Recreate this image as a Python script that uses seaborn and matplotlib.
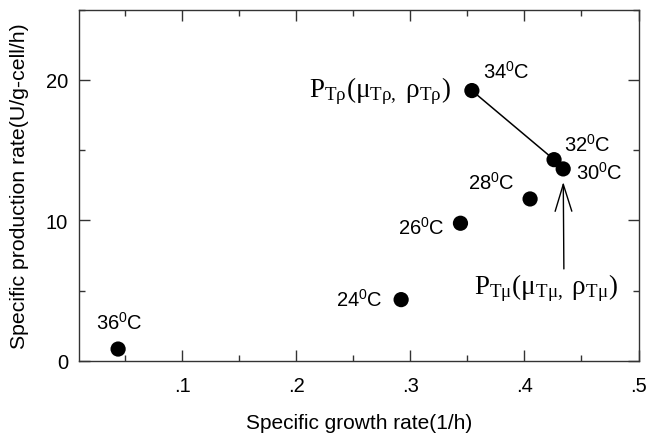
import matplotlib
matplotlib.use("Agg")
import matplotlib.pyplot as plt
import seaborn as sns
import pandas as pd
from matplotlib.ticker import FixedLocator, FuncFormatter

# ---- data ----
temps = ["36", "24", "26", "28", "30", "32", "34"]
growth_rate = [0.044, 0.292, 0.344, 0.405, 0.434, 0.426, 0.354]
production_rate = [0.83, 4.35, 9.79, 11.52, 13.66, 14.32, 19.24]
x_ticks = [0.1, 0.2, 0.3, 0.4, 0.5]
x_tick_labels = [".1", ".2", ".3", ".4", ".5"]
y_ticks = [0, 10, 20]

df = pd.DataFrame({"temp": temps, "mu": growth_rate, "rho": production_rate})

sns.set_style("ticks")
plt.rcParams["font.family"] = ["Liberation Sans", "DejaVu Sans"]
plt.rcParams["mathtext.fontset"] = "custom"
plt.rcParams["mathtext.rm"] = "Liberation Serif"
plt.rcParams["mathtext.it"] = "Liberation Serif:italic"
plt.rcParams["mathtext.sf"] = "Liberation Sans"
plt.rcParams["text.color"] = "black"
plt.rcParams["axes.labelcolor"] = "black"

fig = plt.figure(figsize=(6.56, 4.35), dpi=100)
ax = fig.add_axes([79.3 / 656, 1 - 361.7 / 435, (638.5 - 79.3) / 656, (361.7 - 10.7) / 435])

# connecting line 34C - 32C
seg = df[df["temp"].isin(["34", "32"])]
ax.plot(seg["mu"], seg["rho"], color="black", lw=1.1, zorder=2)

sns.scatterplot(data=df, x="mu", y="rho", color="black", s=120, edgecolor="none",
                ax=ax, zorder=3, legend=False)

ax.set_xlim(0.01, 0.5)
ax.set_ylim(0, 25)

# temperature labels (offsets in points)
offsets = {
    "36": (0.6, 19.5, "center"),
    "24": (-13.5, 0.0, "right"),
    "26": (-11.5, -2.7, "right"),
    "28": (-11.3, 12.2, "right"),
    "30": (9.1, -2.2, "left"),
    "32": (7.4, 11.3, "left"),
    "34": (7.9, 14.2, "left"),
}
for t, x, y in zip(temps, growth_rate, production_rate):
    dx, dy, ha = offsets[t]
    ax.annotate(t + r"$^{\mathsf{0}}$C", xy=(x, y), xytext=(dx, dy),
                textcoords="offset points", ha=ha, va="center", fontsize=14.5)

# P labels
i34 = temps.index("34")
ax.annotate(r"$\mathrm{P_{T\rho}(\mu_{T\rho,}\ \rho_{T\rho})}$",
            xy=(growth_rate[i34], production_rate[i34]), xytext=(-15, 0),
            textcoords="offset points", ha="right", va="center", fontsize=19.5)

i30 = temps.index("30")
ax.annotate(r"$\mathrm{P_{T\mu}(\mu_{T\mu,}\ \rho_{T\mu})}$",
            xy=(growth_rate[i30], production_rate[i30]), xytext=(-12.5, -85),
            textcoords="offset points", ha="center", va="center", fontsize=19.5)
ax.annotate("", xy=(growth_rate[i30], production_rate[i30]), xytext=(0.5, -72),
            textcoords="offset points",
            arrowprops=dict(arrowstyle="->, head_length=0.97, head_width=0.3",
                            mutation_scale=20, color="black", lw=1.0,
                            shrinkA=0, shrinkB=9.4))

# axes styling
ax.xaxis.set_major_locator(FixedLocator(x_ticks))
ax.xaxis.set_major_formatter(FuncFormatter(lambda v, p: x_tick_labels[x_ticks.index(round(v, 2))] if round(v, 2) in x_ticks else ""))
ax.xaxis.set_minor_locator(FixedLocator([0.05, 0.15, 0.25, 0.35, 0.45]))
ax.yaxis.set_major_locator(FixedLocator(y_ticks))
ax.yaxis.set_minor_locator(FixedLocator([5, 15, 25]))
ax.tick_params(which="both", direction="in", top=True, right=True, colors="#333333",
               labelcolor="black", labelsize=14.5)
ax.tick_params(axis="x", which="major", length=8, width=1, pad=11)
ax.tick_params(axis="y", which="major", length=8, width=1, pad=8)
ax.tick_params(which="minor", length=4.3, width=1)
for sp in ax.spines.values():
    sp.set_color("#333333")
    sp.set_linewidth(1.0)

ax.set_xlabel("Specific growth rate(1/h)", fontsize=15, labelpad=13)
ax.set_ylabel("Specific production rate(U/g-cell/h)", fontsize=15.3, labelpad=12)

fig.savefig("out.png", dpi=100)
